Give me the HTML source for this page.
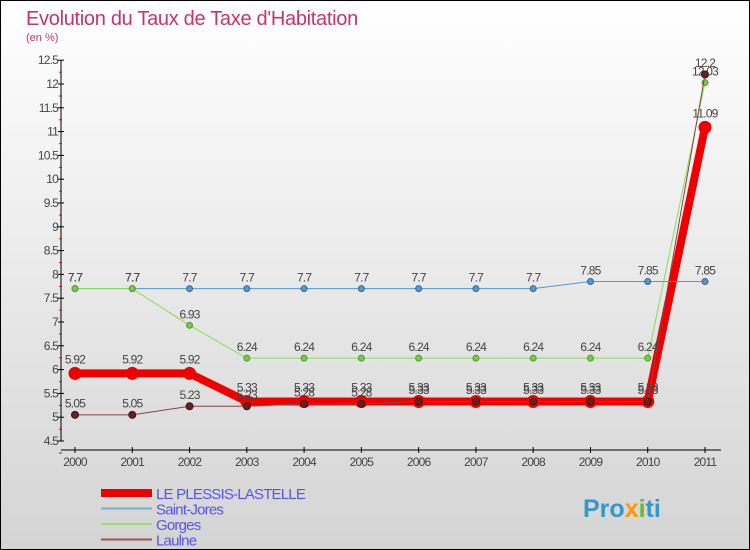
<!DOCTYPE html>
<html><head><meta charset="utf-8"><style>
html,body{margin:0;padding:0}
body{width:750px;height:550px;overflow:hidden;font-family:"Liberation Sans",sans-serif}
#wrap{position:relative;width:748px;height:548px;border:1px solid #000;background:linear-gradient(#ffffff,#d4d4d4)}
</style></head><body>
<div id="wrap">
<svg id="chart" width="748" height="548" style="position:absolute;left:0;top:0">
<text x="25" y="24" font-size="20" fill="#c8336a" letter-spacing="-0.3">Evolution du Taux de Taxe d'Habitation</text>
<text x="25" y="40" font-size="11" fill="#c8336a">(en %)</text>
<g id="axes"></g><g id="series"></g><g id="legend"></g>
<text x="582" y="516" font-size="25" font-weight="bold" fill="#3399cc">Pro<tspan fill="#ff9900">x</tspan><tspan fill="#66bb33">i</tspan><tspan fill="#3399cc">ti</tspan></text>
</svg>
</div>
<script>
const years=[2000,2001,2002,2003,2004,2005,2006,2007,2008,2009,2010,2011];
const yTicks=[4.5,5,5.5,6,6.5,7,7.5,8,8.5,9,9.5,10,10.5,11,11.5,12,12.5];
const plessis=[5.92,5.92,5.92,5.33,5.33,5.33,5.33,5.33,5.33,5.33,5.33,11.09];
const saintJores=[7.7,7.7,7.7,7.7,7.7,7.7,7.7,7.7,7.7,7.85,7.85,7.85];
const gorges=[7.7,7.7,6.93,6.24,6.24,6.24,6.24,6.24,6.24,6.24,6.24,12.03];
const laulne=[5.05,5.05,5.23,5.23,5.28,5.28,5.33,5.33,5.33,5.33,5.33,12.2];
const NS="http://www.w3.org/2000/svg";
function X(i){return 74+i*(630/11);}
function Y(v){return 440-(v-4.5)*47.6;}
function mk(t,a,p){const e=document.createElementNS(NS,t);for(const k in a)e.setAttribute(k,a[k]);p.appendChild(e);return e;}
const ax=document.getElementById('axes');
let l=mk('line',{x1:60,y1:Y(12.5),x2:60,y2:Y(4.5),stroke:'#000'},ax);


l=mk('line',{x1:60,y1:449,x2:720,y2:449,stroke:'#000'},ax);


yTicks.forEach((v,i)=>{
 mk('line',{x1:57,y1:Y(v),x2:63,y2:Y(v),stroke:'#000'},ax);
 mk('line',{x1:58,y1:Y(v)+12,x2:61,y2:Y(v)+12,stroke:'#e00'},ax);
 const t=mk('text',{x:57,y:Y(v)+4,'font-size':12,'text-anchor':'end',fill:'#444','letter-spacing':'-0.8'},ax);
 t.textContent=String(v);
 
 
});
years.forEach((yr,i)=>{
 mk('line',{x1:X(i),y1:446,x2:X(i),y2:452,stroke:'#000'},ax);
 const t=mk('text',{x:X(i),y:465,'font-size':12,'text-anchor':'middle',fill:'#444','letter-spacing':'-0.8'},ax);
 t.textContent=String(yr);
 
 
});
const sg=document.getElementById('series');
function draw(vals,name,col,w,r,dot,stroke){
 const g=mk('g',{},sg);
 
 
 mk('polyline',{points:vals.map((v,i)=>X(i)+','+Y(v)).join(' '),fill:'none',stroke:col,'stroke-width':w,'stroke-linejoin':'round'},g);
 vals.forEach((v,i)=>{
  const c=mk('circle',{cx:X(i),cy:Y(v),r:r,fill:dot,stroke:stroke,'stroke-width':1},g);
  
  
  const t=mk('text',{x:X(i),y:Y(v)-r-4,'font-size':12,'text-anchor':'middle',fill:'#444','letter-spacing':'-0.8'},g);
  t.textContent=String(v);
  
  
 });
}
draw(plessis,'le-plessis-lastelle','#ee0000',8,6,'#ee0000','#ee0000');
draw(saintJores,'saint-jores','#5599cc',1,3,'#5599cc','#336699');
draw(gorges,'gorges','#88dd55',1,3,'#77cc44','#559933');
draw(laulne,'laulne','#884444',1,3.5,'#662222','#441111');
const lg=document.getElementById('legend');
const items=[['LE PLESSIS-LASTELLE','#ee0000',8,'legend-le-plessis-lastelle'],['Saint-Jores','#77aacc',2,'legend-saint-jores'],['Gorges','#99dd77',2,'legend-gorges'],['Laulne','#995555',2,'legend-laulne']];
items.forEach((it,i)=>{
 const y=492+i*15.5;
 const g=mk('g',{},lg);
 
 
 mk('line',{x1:100,y1:y,x2:151,y2:y,stroke:it[1],'stroke-width':it[2]},g);
 const t=mk('text',{x:155,y:y+6,'font-size':15,fill:'#5555ee','letter-spacing':'-0.8'},g);
 t.textContent=it[0];
});
</script>
</body></html>
